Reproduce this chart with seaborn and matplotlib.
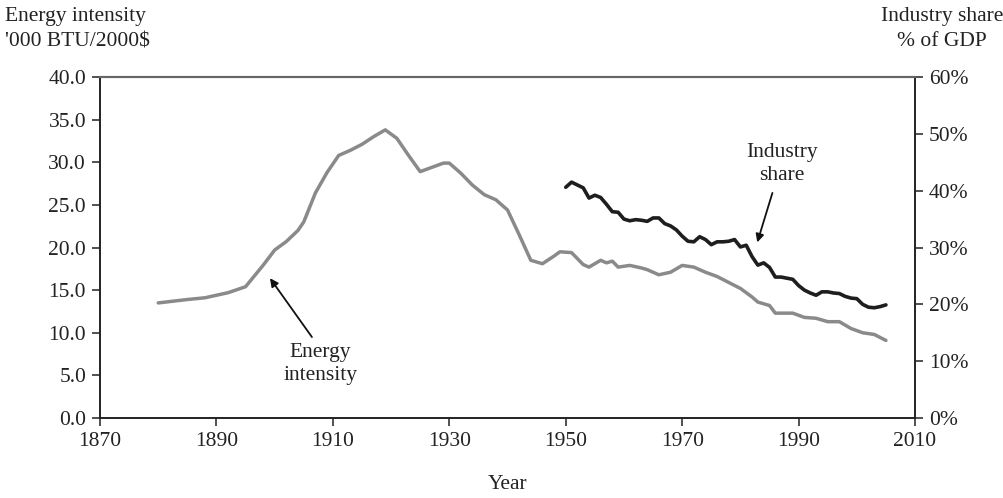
import pandas as pd
import seaborn as sns
import matplotlib.pyplot as plt
from matplotlib.ticker import FuncFormatter, MultipleLocator

# Energy intensity ('000 BTU per 2000$)
ei_years = [1880, 1885, 1888, 1892, 1895, 1898, 1900, 1902, 1904, 1905, 1907, 1909,
            1911, 1913, 1915, 1917, 1919, 1921, 1923, 1925, 1927, 1929, 1930, 1932,
            1934, 1936, 1938, 1940, 1942, 1944, 1946, 1948, 1949, 1951, 1953, 1954,
            1956, 1957, 1958, 1959, 1961, 1963, 1964, 1966, 1968, 1970, 1972, 1974,
            1976, 1978, 1980, 1982, 1983, 1985, 1986, 1989, 1991, 1993, 1995, 1997,
            1999, 2001, 2003, 2005]
ei_values = [13.5, 13.9, 14.1, 14.7, 15.4, 17.9, 19.7, 20.7, 22.0, 23.0, 26.4, 28.8,
             30.8, 31.4, 32.1, 33.0, 33.8, 32.8, 30.8, 28.9, 29.4, 29.9, 29.9, 28.7,
             27.3, 26.2, 25.6, 24.4, 21.5, 18.5, 18.1, 19.0, 19.5, 19.4, 18.0, 17.7,
             18.5, 18.2, 18.4, 17.7, 17.9, 17.6, 17.4, 16.8, 17.1, 17.9, 17.7, 17.1,
             16.6, 15.9, 15.2, 14.2, 13.6, 13.2, 12.3, 12.3, 11.8, 11.7, 11.3, 11.3,
             10.5, 10.0, 9.8, 9.1]

# Industry share (% of GDP)
ind_years = list(range(1950, 2006))
ind_values = [40.6, 41.5, 41.0, 40.5, 38.7, 39.2, 38.8, 37.6, 36.3, 36.2, 35.0, 34.7,
              34.9, 34.8, 34.6, 35.2, 35.2, 34.2, 33.8, 33.1, 32.0, 31.1, 31.0, 31.9,
              31.4, 30.5, 31.0, 31.0, 31.1, 31.4, 30.1, 30.4, 28.4, 26.9, 27.3, 26.5,
              24.8, 24.8, 24.6, 24.4, 23.3, 22.5, 22.0, 21.6, 22.2, 22.2, 22.0, 21.9,
              21.4, 21.1, 21.0, 20.0, 19.5, 19.4, 19.6, 19.9]

x_ticks = [1870, 1890, 1910, 1930, 1950, 1970, 1990, 2010]

ei = pd.DataFrame({"year": ei_years, "value": ei_values})
ind = pd.DataFrame({"year": ind_years, "value": ind_values})

sns.set_style("white")
plt.rcParams['font.family'] = ['Liberation Serif', 'DejaVu Serif']
plt.rcParams['font.size'] = 15.5
txt_col = "#222222"

fig = plt.figure(figsize=(10.04, 4.98), dpi=100)
ax = fig.add_axes([0.0996, 0.1606, 0.8118, 0.6848])
ax2 = ax.twinx()

sns.lineplot(data=ei, x="year", y="value", ax=ax, color="#8a8a8a", linewidth=2.5)
sns.lineplot(data=ind, x="year", y="value", ax=ax2, color="#1e1e1e", linewidth=2.6)

ax.set_xlim(1870, 2010)
ax.set_ylim(0, 40)
ax2.set_ylim(0, 60)
ax.set_xticks(x_ticks)
ax.yaxis.set_major_locator(MultipleLocator(5))
ax2.yaxis.set_major_locator(MultipleLocator(10))
ax.yaxis.set_major_formatter(FuncFormatter(lambda v, p: "%.1f" % v))
ax2.yaxis.set_major_formatter(FuncFormatter(lambda v, p: "%d%%" % v))

ax.set_xlabel("Year", labelpad=17, color=txt_col)
ax.set_ylabel("")
ax2.set_ylabel("")

for a in (ax, ax2):
    for side in ("left", "right", "bottom"):
        a.spines[side].set_color("#222222")
        a.spines[side].set_linewidth(1.2)
    a.spines["top"].set_color("#666666")
    a.spines["top"].set_linewidth(1.5)
    a.tick_params(direction="out", length=6, width=1.1, color="#222222",
                  labelcolor=txt_col, pad=4)
ax.tick_params(axis="both", left=True, bottom=True)
ax2.tick_params(axis="y", right=True)

# arrows and their labels
arrow = dict(arrowstyle="-|>", color="#111111", lw=1.3, shrinkA=0, shrinkB=0,
             mutation_scale=12)
ax.annotate("", xy=(1899.2, 16.4), xytext=(1906.4, 9.5), arrowprops=arrow)
ax.text(1907.8, 6.3, "Energy\nintensity", ha="center", va="center", color=txt_col,
        linespacing=1.3)
ax.annotate("", xy=(1982.9, 20.6), xytext=(1985.5, 26.4), arrowprops=arrow)
ax.text(1987.2, 29.8, "Industry\nshare", ha="center", va="center", color=txt_col,
        linespacing=1.3)

fig.text(0.005, 0.985, "Energy intensity\n'000 BTU/2000$", ha="left", va="top",
         color=txt_col, linespacing=1.4)
fig.text(0.938, 0.985, "Industry share\n% of GDP", ha="center", va="top",
         color=txt_col, linespacing=1.4, multialignment="center")

fig.savefig("out.png", dpi=100)
